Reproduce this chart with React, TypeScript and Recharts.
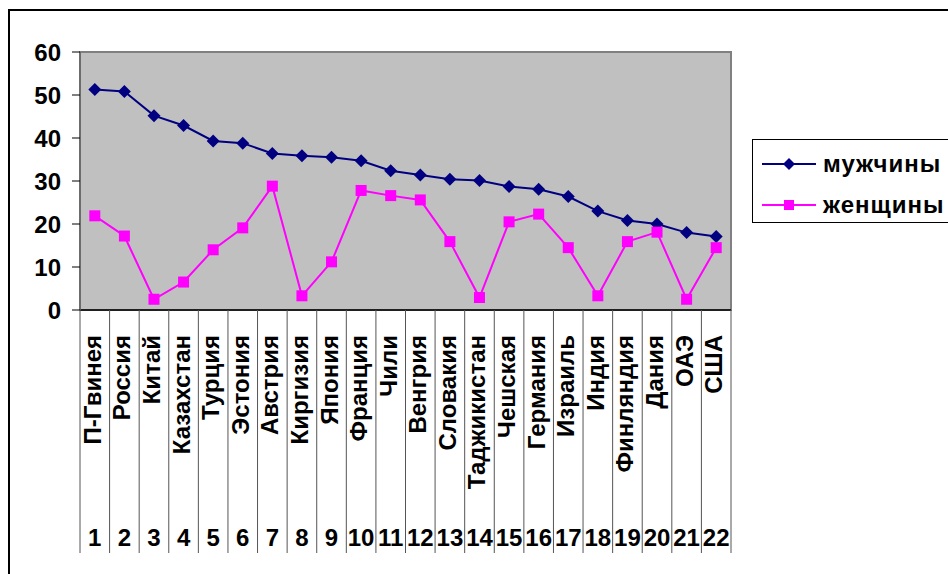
import {
  LineChart, Line, XAxis, YAxis, CartesianGrid, Legend, ReferenceArea,
} from 'recharts'

// ── data ────────────────────────────────────────────────────────────────
const categories = [
  'П-Гвинея', 'Россия', 'Китай', 'Казахстан', 'Турция', 'Эстония', 'Австрия',
  'Киргизия', 'Япония', 'Франция', 'Чили', 'Венгрия', 'Словакия', 'Таджикистан',
  'Чешская', 'Германия', 'Израиль', 'Индия', 'Финляндия', 'Дания', 'ОАЭ', 'США',
]
const categoryNumbers = [
  '1', '2', '3', '4', '5', '6', '7', '8', '9', '10', '11',
  '12', '13', '14', '15', '16', '17', '18', '19', '20', '21', '22',
]
const men = [
  51.3, 50.8, 45.2, 42.9, 39.3, 38.8, 36.4, 35.9, 35.5, 34.7, 32.4,
  31.4, 30.4, 30.1, 28.7, 28.1, 26.4, 23.0, 20.8, 20.0, 18.0, 17.1,
]
const women = [
  21.9, 17.2, 2.5, 6.5, 14.0, 19.1, 28.8, 3.3, 11.2, 27.8, 26.6,
  25.6, 15.9, 2.9, 20.5, 22.3, 14.5, 3.3, 15.9, 18.1, 2.5, 14.5,
]
const yTicks = [0, 10, 20, 30, 40, 50, 60]
const gridValues = [10, 20, 30, 40, 50]

const MEN_LABEL = 'мужчины'
const WOMEN_LABEL = 'женщины'
const MEN_COLOR = '#000080'
const WOMEN_COLOR = '#FF00FF'
const legendOrder = [MEN_LABEL, WOMEN_LABEL]

// ── layout ──────────────────────────────────────────────────────────────
const W = 948
const H = 574
const PLOT_LEFT = 80
const PLOT_RIGHT = 731
const PLOT_TOP = 52
const PLOT_BOTTOM = 310
const BAND = (PLOT_RIGHT - PLOT_LEFT) / categories.length
const FONT = '"Liberation Sans", Arial, sans-serif'

const data = categories.map((name, i) => ({
  name, num: categoryNumbers[i], [MEN_LABEL]: men[i], [WOMEN_LABEL]: women[i],
}))

function Diamond({ cx, cy, size = 6.5, fill }: { cx?: number; cy?: number; size?: number; fill: string }) {
  if (cx == null || cy == null) return null
  const r = size
  return <polygon points={`${cx},${cy - r} ${cx + r},${cy} ${cx},${cy + r} ${cx - r},${cy}`} fill={fill} />
}

function Square({ cx, cy, size = 10, fill }: { cx?: number; cy?: number; size?: number; fill: string }) {
  if (cx == null || cy == null) return null
  return <rect x={cx - size / 2} y={cy - size / 2} width={size} height={size} fill={fill} />
}

// Two-level category axis: rotated country name + number, with band separators
function CategoryTick(props: any) {
  const { x, y, index, payload } = props
  const num = categoryNumbers[index]
  const last = index === categories.length - 1
  return (
    <g>
      <line x1={x - BAND / 2} x2={x - BAND / 2} y1={y} y2={y + 243} stroke="#555" strokeWidth={1} />
      {last && <line x1={x + BAND / 2} x2={x + BAND / 2} y1={y} y2={y + 243} stroke="#555" strokeWidth={1} />}
      <text
        x={x + 6} y={y + 25}
        transform={`rotate(-90 ${x + 6} ${y + 25})`}
        textAnchor="end" fontFamily={FONT} fontWeight="bold" fontSize={24} fill="#000"
      >
        {payload.value}
      </text>
      <text x={x} y={y + 236} textAnchor="middle" fontFamily={FONT} fontWeight="bold" fontSize={24} fill="#000">
        {num}
      </text>
    </g>
  )
}

function LegendBox({ payload }: any) {
  const items = [...(payload || [])].sort(
    (a: any, b: any) => legendOrder.indexOf(a.value) - legendOrder.indexOf(b.value),
  )
  return (
    <div style={{
      border: '1px solid #000', width: 220, height: 84, boxSizing: 'border-box', background: '#fff',
      fontFamily: FONT, fontWeight: 'bold', fontSize: 24, color: '#000', position: 'relative',
    }}>
      {items.map((p: any, i: number) => (
        <div key={p.value} style={{ position: 'absolute', left: 8, top: i === 0 ? 10 : 51, height: 28, display: 'flex', alignItems: 'center' }}>
          <svg width={56} height={20} style={{ marginRight: 6 }}>
            <line x1={1} x2={55} y1={10} y2={10} stroke={p.color} strokeWidth={2} />
            {p.value === MEN_LABEL
              ? <Diamond cx={28} cy={10} size={6} fill={p.color} />
              : <Square cx={28} cy={10} size={10} fill={p.color} />}
          </svg>
          <span style={{ letterSpacing: 1 }}>{p.value}</span>
        </div>
      ))}
    </div>
  )
}

export default function App() {
  return (
    <div style={{ position: 'absolute', left: 0, top: 0, width: W, height: H, overflow: 'hidden', background: '#fff' }}>
      <div style={{ position: 'absolute', left: 8, top: 9, width: 1000, height: 700, border: '2px solid #000' }} />
      <div style={{ position: 'absolute', left: 0, top: 0 }}>
        <LineChart
          width={W} height={H} data={data}
          margin={{ top: PLOT_TOP, right: W - PLOT_RIGHT, left: 0, bottom: 0 }}
        >
          <ReferenceArea y1={0} y2={60} fill="#C0C0C0" fillOpacity={1} stroke="#808080" strokeWidth={2} ifOverflow="visible" />
          <CartesianGrid horizontalValues={gridValues} vertical={false} stroke="#000" strokeWidth={1} fill="none" />
          <XAxis
            dataKey="name" scale="band" interval={0} height={H - PLOT_BOTTOM}
            axisLine={{ stroke: '#000', strokeWidth: 1.5 }} tickLine={false} tickSize={0} tickMargin={0}
            tick={<CategoryTick />}
          />
          <YAxis
            domain={[0, 60]} ticks={yTicks} width={PLOT_LEFT} interval={0}
            axisLine={{ stroke: '#666', strokeWidth: 1.5 }} tickLine={{ stroke: '#000' }} tickSize={8} tickMargin={11}
            tick={{ fill: '#000', fontSize: 24, fontWeight: 'bold', fontFamily: FONT }}
          />
          <Legend
            layout="vertical" align="center" verticalAlign="middle"
            wrapperStyle={{ left: 752, top: 139, width: 220, height: 84 }}
            content={<LegendBox />}
          />
          <Line
            dataKey={MEN_LABEL} stroke={MEN_COLOR} strokeWidth={2}
            dot={<Diamond fill={MEN_COLOR} size={6.5} />} activeDot={false} isAnimationActive={false}
          />
          <Line
            dataKey={WOMEN_LABEL} stroke={WOMEN_COLOR} strokeWidth={2}
            dot={<Square fill={WOMEN_COLOR} size={11} />} activeDot={false} isAnimationActive={false}
          />
        </LineChart>
      </div>
    </div>
  )
}
